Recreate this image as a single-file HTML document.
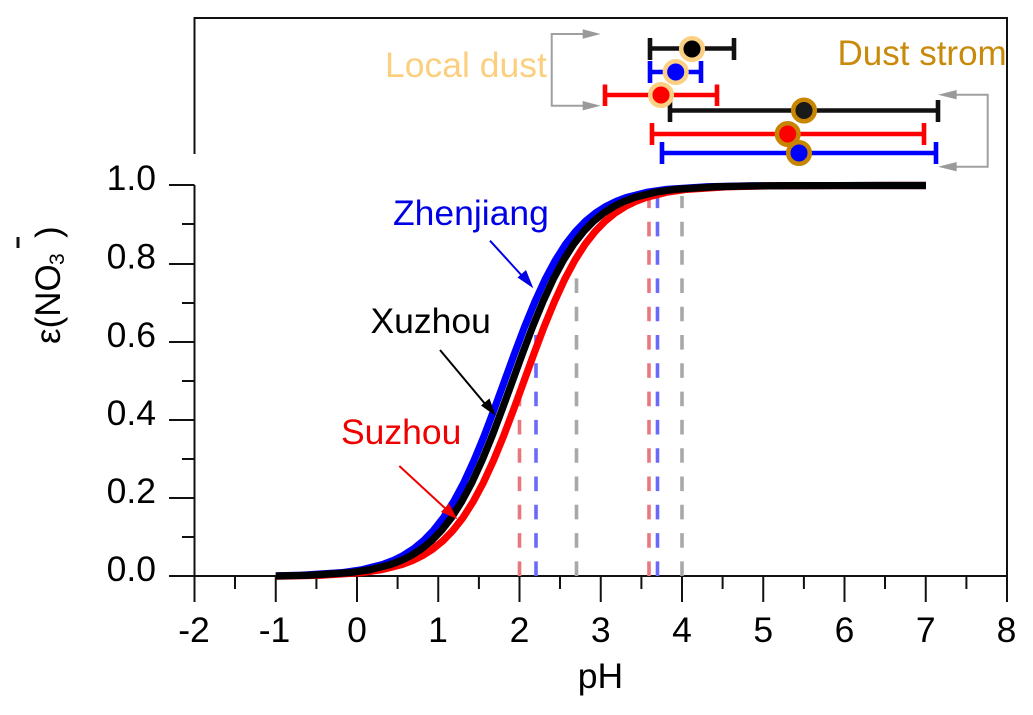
<!DOCTYPE html>
<html lang="en">
<head>
<meta charset="utf-8">
<title>pH curve</title>
<style>
html,body{margin:0;padding:0;background:#fff;width:1033px;height:715px;overflow:hidden}
svg{display:block}
text{font-family:"Liberation Sans",sans-serif}
</style>
</head>
<body>
<svg xmlns="http://www.w3.org/2000/svg" width="1033" height="715" viewBox="0 0 1033 715">
<defs>
<clipPath id="c"><rect x="275.75" y="170" width="650.25" height="420"/></clipPath>
<path id="s" fill="none" stroke-width="7.2" stroke-linejoin="round" d="M-284.4 575.88L-243.75 575.61L-203.1 574.77L-162.5 572.13L-142.2 569.17L-121.9 564.02L-111.7 560.18L-101.6 555.18L-91.4 548.73L-81.25 540.45L-71.1 530L-60.9 516.97L-50.8 501.06L-40.6 482.06L-30.5 460.03L-20.3 435.26L-10.2 408.46L0 380.5L10.2 352.54L20.3 325.74L30.5 300.97L40.6 278.94L50.8 259.94L60.9 244.03L71.1 231L81.25 220.55L91.4 212.27L101.6 205.82L111.7 200.82L121.9 196.98L142.2 191.83L162.5 188.87L203.1 186.23L243.75 185.39L284.4 185.12L325 185.04L447 185"/>
</defs>

<!-- frame and axes -->
<g fill="none" stroke="#111" stroke-width="2">
<path d="M194.5 154V18H1007V602"/>
<path d="M194.5 185V602"/>
<path d="M169 185H194.5M182 224H194.5M169 264H194.5M182 303H194.5M169 342H194.5M182 381H194.5M169 420H194.5M182 459H194.5M169 498H194.5M182 537H194.5M169 576H1007"/>
<path d="M275.75 576V602M357 576V602M438.25 576V602M519.5 576V602M600.75 576V602M682 576V602M763.25 576V602M844.5 576V602M925.75 576V602M235 576V589M316.4 576V589M397.6 576V589M478.9 576V589M560 576V589M641.4 576V589M722.6 576V589M803.9 576V589M885 576V589M966.4 576V589"/>
</g>

<!-- dashed reference lines -->
<g fill="none" stroke-width="3.6" stroke-dasharray="14.6 13.7">
<path stroke="#e8787e" d="M519.5 576V390"/>
<path stroke="#6a6af8" d="M536 576V335"/>
<path stroke="#a8a8a8" d="M576.5 576V278"/>
<path stroke="#e8787e" d="M649 576V196"/>
<path stroke="#6a6af8" d="M657.5 576V196"/>
<path stroke="#a8a8a8" d="M682 576V196"/>
</g>

<!-- curves -->
<g clip-path="url(#c)">
<use href="#s" stroke="#0000ff" transform="translate(504.5 .5)"/>
<use href="#s" stroke="#ff0000" transform="translate(524 .5)"/>
<use href="#s" stroke="#000000" transform="translate(512.5 .5)"/>
</g>

<!-- annotation arrows -->
<g stroke-width="2" fill="none">
<path stroke="#0000e6" d="M490 240.7L524 278"/>
<path stroke="#000" d="M440 350L486 405"/>
<path stroke="#f00000" d="M399.3 466L447 510"/>
</g>
<path fill="#0000e6" d="M533.3 288.3L517.5 277.5L526 270Z"/>
<path fill="#000" d="M495.7 416L481 405.5L489.5 398.5Z"/>
<path fill="#f00000" d="M457.3 519.3L441 512L449 503.5Z"/>

<!-- grey brackets -->
<g fill="none" stroke="#a0a0a0" stroke-width="2">
<path d="M584 34H551.7V105.7H584"/>
<path d="M955 94.7H987.7V166.7H955"/>
</g>
<g fill="#9a9a9a">
<path d="M600.7 34L582.7 29.3V38.7Z"/>
<path d="M600.7 105.7L582.7 101V110.4Z"/>
<path d="M938 94.7L956.7 90V99.4Z"/>
<path d="M938 166.7L956.7 162V171.4Z"/>
</g>

<!-- error bars -->
<g fill="none" stroke-width="4.6">
<path stroke="#111" d="M649.5 48.5H733.5M650 38V60M734 38V60"/>
<path stroke="#0000ff" d="M649.5 72H701M650 61V83M701 61V83"/>
<path stroke="#ff0000" d="M605 95H717M605 84.5V106M717 84.5V106"/>
<path stroke="#111" d="M670 110.5H938M670 100V122M938 100V122"/>
<path stroke="#ff0000" d="M652 134H924M652 123V145M924 123V145"/>
<path stroke="#0000ff" d="M662 153H936M662 142V164M936 142V164"/>
</g>
<g stroke-width="4.5">
<circle cx="692" cy="49" r="10.8" fill="#000" stroke="#fbd083"/>
<circle cx="675.7" cy="72" r="10.8" fill="#0000ff" stroke="#fbd083"/>
<circle cx="661" cy="95" r="10.8" fill="#ff0000" stroke="#fbd083"/>
<circle cx="804" cy="110.5" r="10.8" fill="#1a1a1a" stroke="#c78500"/>
<circle cx="787.7" cy="134" r="10.8" fill="#ff0000" stroke="#c78500"/>
<circle cx="799" cy="153" r="10.8" fill="#0000ff" stroke="#c78500"/>
</g>

<!-- tick labels -->
<g font-size="35.5" fill="#000" text-anchor="end">
<text x="156" y="190">1.0</text>
<text x="156" y="268.5">0.8</text>
<text x="156" y="347">0.6</text>
<text x="156" y="425">0.4</text>
<text x="156" y="503">0.2</text>
<text x="156" y="581">0.0</text>
</g>
<g font-size="35.5" fill="#000" text-anchor="middle">
<text x="194" y="642">-2</text>
<text x="274.5" y="642">-1</text>
<text x="357" y="642">0</text>
<text x="438" y="642">1</text>
<text x="519.5" y="642">2</text>
<text x="600.8" y="642">3</text>
<text x="682" y="642">4</text>
<text x="763.3" y="642">5</text>
<text x="844.5" y="642">6</text>
<text x="925.8" y="642">7</text>
<text x="1006.5" y="642">8</text>
<text x="600.5" y="688">pH</text>
</g>

<!-- y axis title -->
<g fill="#000" font-size="35">
<text transform="translate(60 344) rotate(-90)">ε(NO</text>
<text transform="translate(64 265) rotate(-90)" font-size="21">3</text>
<text transform="translate(60 238) rotate(-90)">)</text>
</g>
<path d="M18 237V248" stroke="#111" stroke-width="3"/>

<!-- labels -->
<text x="385" y="77" font-size="35.5" fill="#fbcf7d">Local dust</text>
<text x="837.5" y="65" font-size="35" fill="#c98a0b">Dust strom</text>
<text x="393" y="225" font-size="35.5" fill="#0000e6">Zhenjiang</text>
<text x="370.5" y="333" font-size="35.5" fill="#000">Xuzhou</text>
<text x="341" y="444" font-size="35.5" fill="#f00000">Suzhou</text>
</svg>
</body>
</html>
